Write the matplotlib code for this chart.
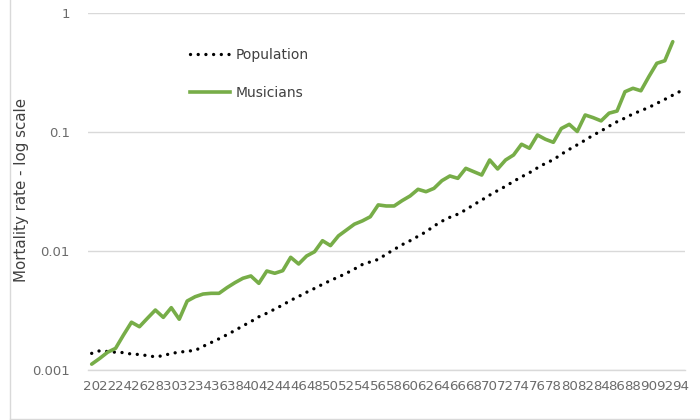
import matplotlib
matplotlib.use("Agg")
import matplotlib.pyplot as plt
from matplotlib.lines import Line2D

# ---- data ----
ages_population = list(range(20, 95))
population = [
    0.00138, 0.00145, 0.00143, 0.00141, 0.00140, 0.00136, 0.00135, 0.00132, 0.00129, 0.00132,
    0.00138, 0.00141, 0.00144, 0.00146, 0.00158, 0.00170, 0.00183, 0.00198, 0.00215, 0.00235,
    0.00255, 0.00280, 0.00300, 0.00325, 0.00352, 0.00385, 0.00415, 0.00450, 0.00485, 0.00525,
    0.00565, 0.00605, 0.00650, 0.00705, 0.00770, 0.00810, 0.00850, 0.00940, 0.0103, 0.0113,
    0.0122, 0.0133, 0.0145, 0.0162, 0.0178, 0.0192, 0.0204, 0.0222, 0.0245, 0.0268,
    0.0295, 0.0322, 0.0350, 0.0385, 0.0420, 0.0455, 0.0500, 0.0545, 0.0585, 0.0650,
    0.0715, 0.0780, 0.0855, 0.0940, 0.1020, 0.1120, 0.1220, 0.1310, 0.1420, 0.1510,
    0.1610, 0.1740, 0.1880, 0.2040, 0.2210,
]

ages_musicians = list(range(20, 94))
musicians = [
    0.00112, 0.00125, 0.00141, 0.00152, 0.00197, 0.00252, 0.00231, 0.00272, 0.00319, 0.00277,
    0.00334, 0.00267, 0.00380, 0.00413, 0.00435, 0.00441, 0.00441, 0.00492, 0.00542, 0.00590,
    0.00617, 0.00535, 0.00679, 0.00650, 0.00683, 0.00885, 0.00778, 0.00908, 0.00986, 0.0122,
    0.0111, 0.0134, 0.0150, 0.0168, 0.0179, 0.0194, 0.0244, 0.0239, 0.0239, 0.0265,
    0.0290, 0.0330, 0.0315, 0.0336, 0.0390, 0.0427, 0.0408, 0.0495, 0.0464, 0.0435,
    0.0582, 0.0489, 0.0582, 0.0641, 0.0789, 0.0730, 0.0944, 0.0869, 0.0819, 0.107,
    0.116, 0.101, 0.139, 0.132, 0.124, 0.144, 0.150, 0.218, 0.233, 0.222,
    0.292, 0.378, 0.397, 0.574,
]

x_tick_values = list(range(20, 95, 2))
x_tick_labels = [str(v) for v in x_tick_values]
y_tick_values = [0.001, 0.01, 0.1, 1]
y_tick_labels = ["0.001", "0.01", "0.1", "1"]

series_labels = ["Population", "Musicians"]
y_axis_title = "Mortality rate - log scale"

# ---- figure ----
W, H = 700, 420
fig = plt.figure(figsize=(7, 4.2), dpi=100)
fig.patch.set_facecolor("white")

left, right, bottom, top = 87.7, 684.7, 370, 13
ax = fig.add_axes([left / W, 1 - bottom / H, (right - left) / W, (bottom - top) / H])

tick_gray = "#6b6b6b"
grid_gray = "#d9d9d9"
text_dark = "#404040"

ax.set_yscale("log")
ax.set_ylim(0.001, 1)
ax.set_xlim(19.5, 94.5)

ax.plot(ages_population, population, color="black", linewidth=2.4,
        linestyle=(0, (0.01, 2.3)), dash_capstyle="round", zorder=3)
ax.plot(ages_musicians, musicians, color="#77ad48", linewidth=2.6,
        solid_joinstyle="round", solid_capstyle="round", zorder=4)

ax.set_yticks(y_tick_values)
ax.set_yticklabels(y_tick_labels)
ax.yaxis.set_minor_locator(matplotlib.ticker.NullLocator())
ax.set_xticks(x_tick_values)
ax.set_xticklabels(x_tick_labels)

ax.tick_params(axis="y", length=0, pad=13, labelsize=9.5, labelcolor=tick_gray)
ax.tick_params(axis="x", length=0, pad=7, labelsize=9.6, labelcolor=tick_gray)

ax.grid(axis="y", which="major", color=grid_gray, linewidth=1.0)
ax.set_axisbelow(True)
for s in ["top", "right", "left"]:
    ax.spines[s].set_visible(False)
ax.spines["bottom"].set_color(grid_gray)
ax.spines["bottom"].set_linewidth(1.0)

# legend
handles = [
    Line2D([], [], color="black", linewidth=2.4, linestyle=(0, (0.01, 2.3)),
           dash_capstyle="round"),
    Line2D([], [], color="#77ad48", linewidth=2.6),
]
leg = ax.legend(handles, series_labels, loc="upper left",
                bbox_to_anchor=((190 - left) / (right - left), 1 - (48 - top) / (bottom - top)),
                frameon=False, fontsize=10, handlelength=2.9, handletextpad=0.4,
                labelspacing=1.75, borderaxespad=0, borderpad=0)
for t in leg.get_texts():
    t.set_color(text_dark)

fig.text(22 / W, 1 - 190 / H, y_axis_title, rotation=90, ha="center", va="center",
         fontsize=10.8, color=text_dark)

# outer chart border (partially visible)
fig.add_artist(Line2D([10 / W, 10 / W], [1 - 419 / H, 1.0], color=grid_gray,
                      linewidth=1.0, transform=fig.transFigure))
fig.add_artist(Line2D([10 / W, 1.0], [1 - 419 / H, 1 - 419 / H], color=grid_gray,
                      linewidth=1.0, transform=fig.transFigure))

fig.savefig("out.png", dpi=100, facecolor="white")
